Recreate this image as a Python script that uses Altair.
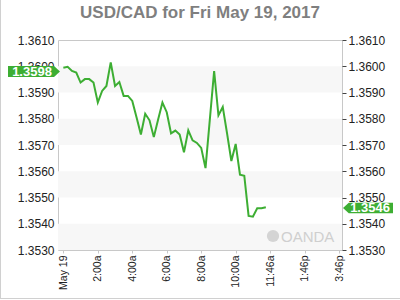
import altair as alt
import pandas as pd

# ---- data ----
times = ["00:00", "00:15", "00:30", "00:45", "01:00", "01:15", "01:30", "01:45",
         "02:00", "02:15", "02:30", "02:45", "03:00", "03:15", "03:30", "03:45",
         "04:00", "04:15", "04:30", "04:45", "05:00", "05:15", "05:30", "05:45",
         "06:00", "06:15", "06:30", "06:45", "07:00", "07:15", "07:30", "07:45",
         "08:00", "08:15", "08:30", "08:45", "09:00", "09:15", "09:30", "09:45",
         "10:00", "10:15", "10:30", "10:45", "11:00", "11:15", "11:30", "11:45"]
rates = [1.35994, 1.35998, 1.35982, 1.35976, 1.35938, 1.35951, 1.35951, 1.35938,
         1.35862, 1.35906, 1.35925, 1.36015, 1.35925, 1.35940, 1.35887, 1.35887,
         1.35868, 1.35805, 1.35740, 1.35819, 1.35794, 1.35730, 1.35797, 1.35862,
         1.35825, 1.35744, 1.35755, 1.35740, 1.35672, 1.35756, 1.35718, 1.35708,
         1.35689, 1.35612, 1.35797, 1.35982, 1.35813, 1.35845, 1.35744, 1.35639,
         1.35704, 1.35587, 1.35583, 1.35430, 1.35427, 1.35459, 1.35459, 1.35463]

band_lo = [1.3590, 1.3570, 1.3550, 1.3530]
band_hi = [1.3600, 1.3580, 1.3560, 1.3540]

y_ticks = [1.3530, 1.3540, 1.3550, 1.3560, 1.3570, 1.3580, 1.3590, 1.3600, 1.3610]
x_tick_hours = [0, 2, 4, 6, 8, 10, 12, 14, 16]
x_tick_labels = ["May 19", "2:00a", "4:00a", "6:00a", "8:00a", "10:00a",
                 "11:46a", "1:46p", "3:46p"]

left_tag = [1.3598]
right_tag = [1.3546]
title_text = ["USD/CAD for Fri May 19, 2017"]

# ---- tables ----
df = pd.DataFrame({"time": times, "rate": rates})
df["hours"] = [int(t[:2]) + int(t[3:]) / 60 for t in times]
bands = pd.DataFrame({"lo": band_lo, "hi": band_hi})
ltag = pd.DataFrame({"v": left_tag, "label": [f"{v:.4f}" for v in left_tag]})
rtag = pd.DataFrame({"v": right_tag, "label": [f"{v:.4f}" for v in right_tag]})
wm = pd.DataFrame({"t": ["OANDA"]})
ttl = pd.DataFrame({"t": title_text})

GREEN = "#3dae33"
FONT = "Liberation Sans"

yscale = alt.Scale(domain=[1.3530, 1.3610], zero=False, nice=False)
xscale = alt.Scale(domain=[-0.31, 16.17], nice=False, zero=False)

label_arr = "[" + ",".join(f"'{s}'" for s in x_tick_labels) + "]"

band_layer = alt.Chart(bands).mark_rect(color="#f7f7f7").encode(
    y=alt.Y("lo:Q", scale=yscale, axis=None),
    y2="hi:Q",
)

line_layer = alt.Chart(df).mark_line(color=GREEN, strokeWidth=2).encode(
    x=alt.X("hours:Q", scale=xscale,
            axis=alt.Axis(values=x_tick_hours, title=None, labelAngle=-90,
                          labelExpr=f"{label_arr}[round(datum.value/2)]",
                          tickSize=3, labelPadding=2, domain=False, grid=False,
                          tickColor="#c8c8c8", labelFontSize=10.5)),
    y=alt.Y("rate:Q", scale=yscale,
            axis=alt.Axis(orient="left", values=y_ticks, format=".4f", title=None,
                          ticks=False, labelPadding=4, domain=False, grid=False)),
)

tag_shape_l = "M-1,-0.21 L0.77,-0.21 L1,0 L0.77,0.21 L-1,0.21 Z"
tag_shape_r = "M1,-0.21 L-0.77,-0.21 L-1,0 L-0.77,0.21 L1,0.21 Z"

ltag_shape = alt.Chart(ltag).mark_point(shape=tag_shape_l, filled=True, color=GREEN,
                                        opacity=1, size=2704).encode(
    x=alt.value(-24),
    y=alt.Y("v:Q", scale=yscale, axis=None),
)
ltag_text = alt.Chart(ltag).mark_text(color="white", fontWeight="bold", fontSize=13,
                                      font=FONT, baseline="middle").encode(
    x=alt.value(-26),
    y=alt.Y("v:Q", scale=yscale, axis=None),
    text="label:N",
)
rtag_shape = alt.Chart(rtag).mark_point(shape=tag_shape_r, filled=True, color=GREEN,
                                        opacity=1, size=2500).encode(
    x=alt.value(310),
    y=alt.Y("v:Q", scale=yscale,
            axis=alt.Axis(orient="right", values=y_ticks, format=".4f", title=None,
                          tickSize=4, tickColor="#444", labelPadding=2,
                          domain=False, grid=False)),
)
rtag_text = alt.Chart(rtag).mark_text(color="white", fontWeight="bold", fontSize=13,
                                      font=FONT, baseline="middle").encode(
    x=alt.value(312),
    y=alt.Y("v:Q", scale=yscale, axis=None),
    text="label:N",
)

wm_logo = alt.Chart(wm).mark_point(shape="circle", filled=True, color="#d4d4d4",
                                   opacity=1, size=150).encode(
    x=alt.value(215), y=alt.value(196))
wm_text = alt.Chart(wm).mark_text(color="#cfcfcf", fontSize=15, font=FONT,
                                  align="left", baseline="alphabetic").encode(
    x=alt.value(223), y=alt.value(202), text="t:N")

title_layer = alt.Chart(ttl).mark_text(color="#7f7f7f", fontSize=17, font=FONT,
                                       fontWeight="bold", align="center",
                                       baseline="alphabetic").encode(
    x=alt.value(142), y=alt.value(-22), text="t:N")

border_left = alt.Chart(wm).mark_rule(color="#d0d0d0").encode(
    x=alt.value(-57.5), y=alt.value(-40), y2=alt.value(259))
border_bottom = alt.Chart(wm).mark_rule(color="#d0d0d0").encode(
    x=alt.value(-58), x2=alt.value(342), y=alt.value(258.5))

chart = alt.layer(
    band_layer, wm_logo, wm_text, line_layer, ltag_shape, ltag_text,
    rtag_shape, rtag_text, title_layer, border_left, border_bottom,
).resolve_axis(y="independent").properties(
    width=284, height=210,
    autosize=alt.AutoSizeParams(type="none"),
    padding={"left": 58, "top": 40, "right": 58, "bottom": 50},
    background="white",
).configure_view(stroke="#c8c8c8", strokeWidth=1).configure_axis(
    labelFont=FONT, labelFontSize=12, labelColor="#222",
)

chart.save("out.html", embed_options={"renderer": "svg", "actions": False})
